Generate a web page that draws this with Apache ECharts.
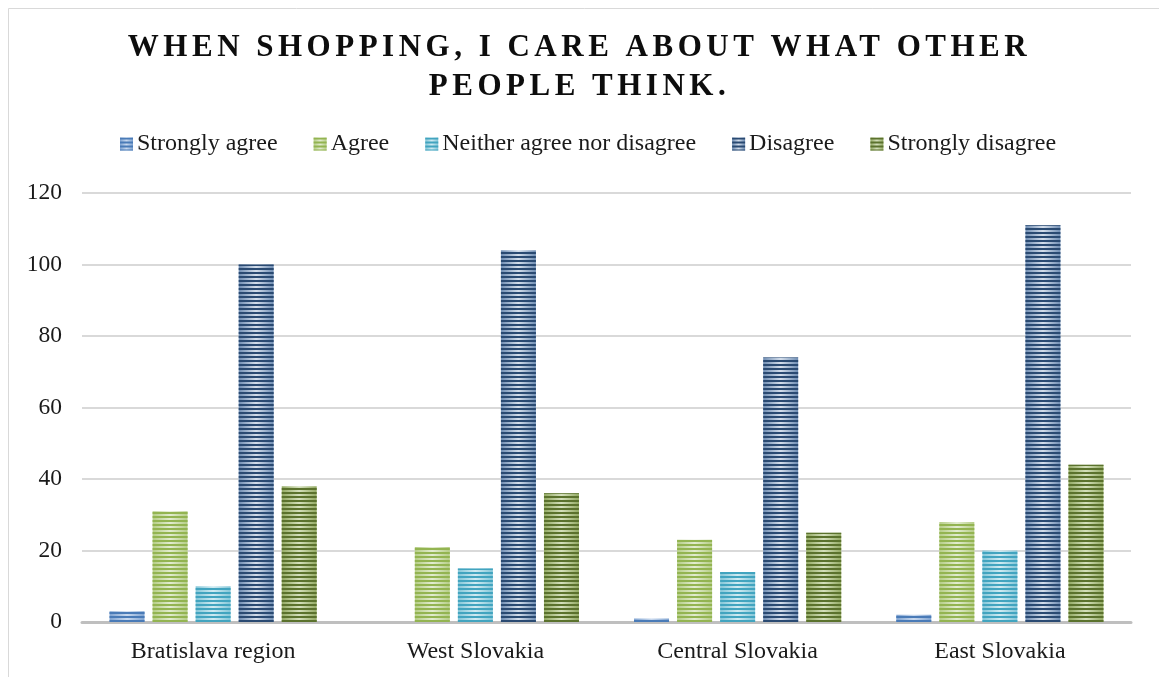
<!DOCTYPE html>
<html>
<head>
<meta charset="utf-8">
<title>When shopping, I care about what other people think.</title>
<script src="https://cdn.jsdelivr.net/npm/echarts@6/dist/echarts.min.js"></script>
<style>
  html, body { margin: 0; padding: 0; background: #ffffff; }
  #chart { width: 1159px; height: 677px; }
</style>
</head>
<body>
<div id="chart"></div>
<script>
// Survey responses by region
const regions = ['Bratislava region', 'West Slovakia', 'Central Slovakia', 'East Slovakia'];
const seriesNames = ['Strongly agree', 'Agree', 'Neither agree nor disagree', 'Disagree', 'Strongly disagree'];
const stronglyAgree = [3, 0, 1, 2];
const agree = [31, 21, 23, 28];
const neither = [10, 15, 14, 20];
const disagree = [100, 104, 74, 111];
const stronglyDisagree = [38, 36, 25, 44];
const yTicks = [0, 20, 40, 60, 80, 100, 120];

const values = [stronglyAgree, agree, neither, disagree, stronglyDisagree];

// stripe colour, edge tone and highlight tone for each response level
const palette = [
  { stripe: '#4a7bb7', edge: '#7fa3d1', light: '#c9d9ee' },
  { stripe: '#93b451', edge: '#b5cd86', light: '#e2ecd0' },
  { stripe: '#42a4bf', edge: '#83c6d8', light: '#d0ebf2' },
  { stripe: '#2a4a72', edge: '#6f8db3', light: '#d4deeb' },
  { stripe: '#5b722d', edge: '#93aa63', light: '#d5e0bd' }
];

const TITLE_FONT = 31;
// Spaced capitals for the heading: the canvas letterSpacing property is applied to the title font only
(function () {
  const proto = CanvasRenderingContext2D.prototype;
  const fill = proto.fillText;
  proto.fillText = function (text, x, y, maxW) {
    if (typeof this.font === 'string' && this.font.indexOf('bold ' + TITLE_FONT + 'px') >= 0) {
      const prev = this.letterSpacing;
      this.letterSpacing = '4.5px';
      const r = maxW === undefined ? fill.call(this, text, x, y) : fill.call(this, text, x, y, maxW);
      this.letterSpacing = prev;
      return r;
    }
    return fill.apply(this, arguments);
  };
})();

const serif = '"Liberation Serif", "Times New Roman", serif';
const textColor = '#1a1a1a';

const chart = echarts.init(document.getElementById('chart'), null, { renderer: 'canvas' });

const series = seriesNames.map((name, i) => ({
  name: name,
  type: 'bar',
  data: values[i],
  barWidth: 35,
  barGap: '23%',
  itemStyle: {
    color: new echarts.graphic.LinearGradient(0, 0, 1, 0, [
      { offset: 0, color: palette[i].edge },
      { offset: 0.5, color: palette[i].light },
      { offset: 1, color: palette[i].edge }
    ]),
    decal: {
      symbol: 'rect',
      symbolSize: 1,
      dashArrayX: [1, 0],
      dashArrayY: [2, 2],
      rotation: 0,
      color: palette[i].stripe
    }
  },
  emphasis: { disabled: true }
}));

chart.setOption({
  animation: false,
  backgroundColor: '#ffffff',
  title: {
    text: 'WHEN SHOPPING, I CARE ABOUT WHAT OTHER\nPEOPLE THINK.',
    left: 'center',
    top: 28,
    padding: 0,
    textStyle: {
      fontFamily: serif,
      fontWeight: 'bold',
      fontSize: TITLE_FONT,
      lineHeight: 39,
      color: '#0d0d0d'
    }
  },
  legend: {
    data: seriesNames,
    top: 132,
    left: 120,
    padding: 0,
    itemWidth: 13,
    itemHeight: 13,
    itemGap: 36,
    icon: 'rect',
    textStyle: { fontFamily: serif, fontSize: 24, color: textColor, padding: [0, 0, 0, -1] }
  },
  grid: { left: 82, right: 28, top: 193, bottom: 55, containLabel: false },
  xAxis: {
    type: 'category',
    data: regions,
    axisTick: { show: false },
    axisLine: { show: true, lineStyle: { color: '#bfbfbf', width: 3 } },
    axisLabel: { fontFamily: serif, fontSize: 24, color: textColor, margin: 18 }
  },
  yAxis: {
    type: 'value',
    min: yTicks[0],
    max: yTicks[yTicks.length - 1],
    interval: yTicks[1] - yTicks[0],
    axisLine: { show: false },
    axisTick: { show: false },
    splitLine: { lineStyle: { color: '#d9d9d9', width: 2 } },
    axisLabel: { fontFamily: serif, fontSize: 23.5, color: textColor, margin: 20, padding: [3, 0, 0, 0] }
  },
  graphic: [{
    type: 'rect',
    silent: true,
    z: -1,
    shape: { x: 8.5, y: 8.5, width: 1160, height: 680 },
    style: { fill: null, stroke: '#d9d9d9', lineWidth: 1 }
  }],
  series: series
});
</script>
</body>
</html>
